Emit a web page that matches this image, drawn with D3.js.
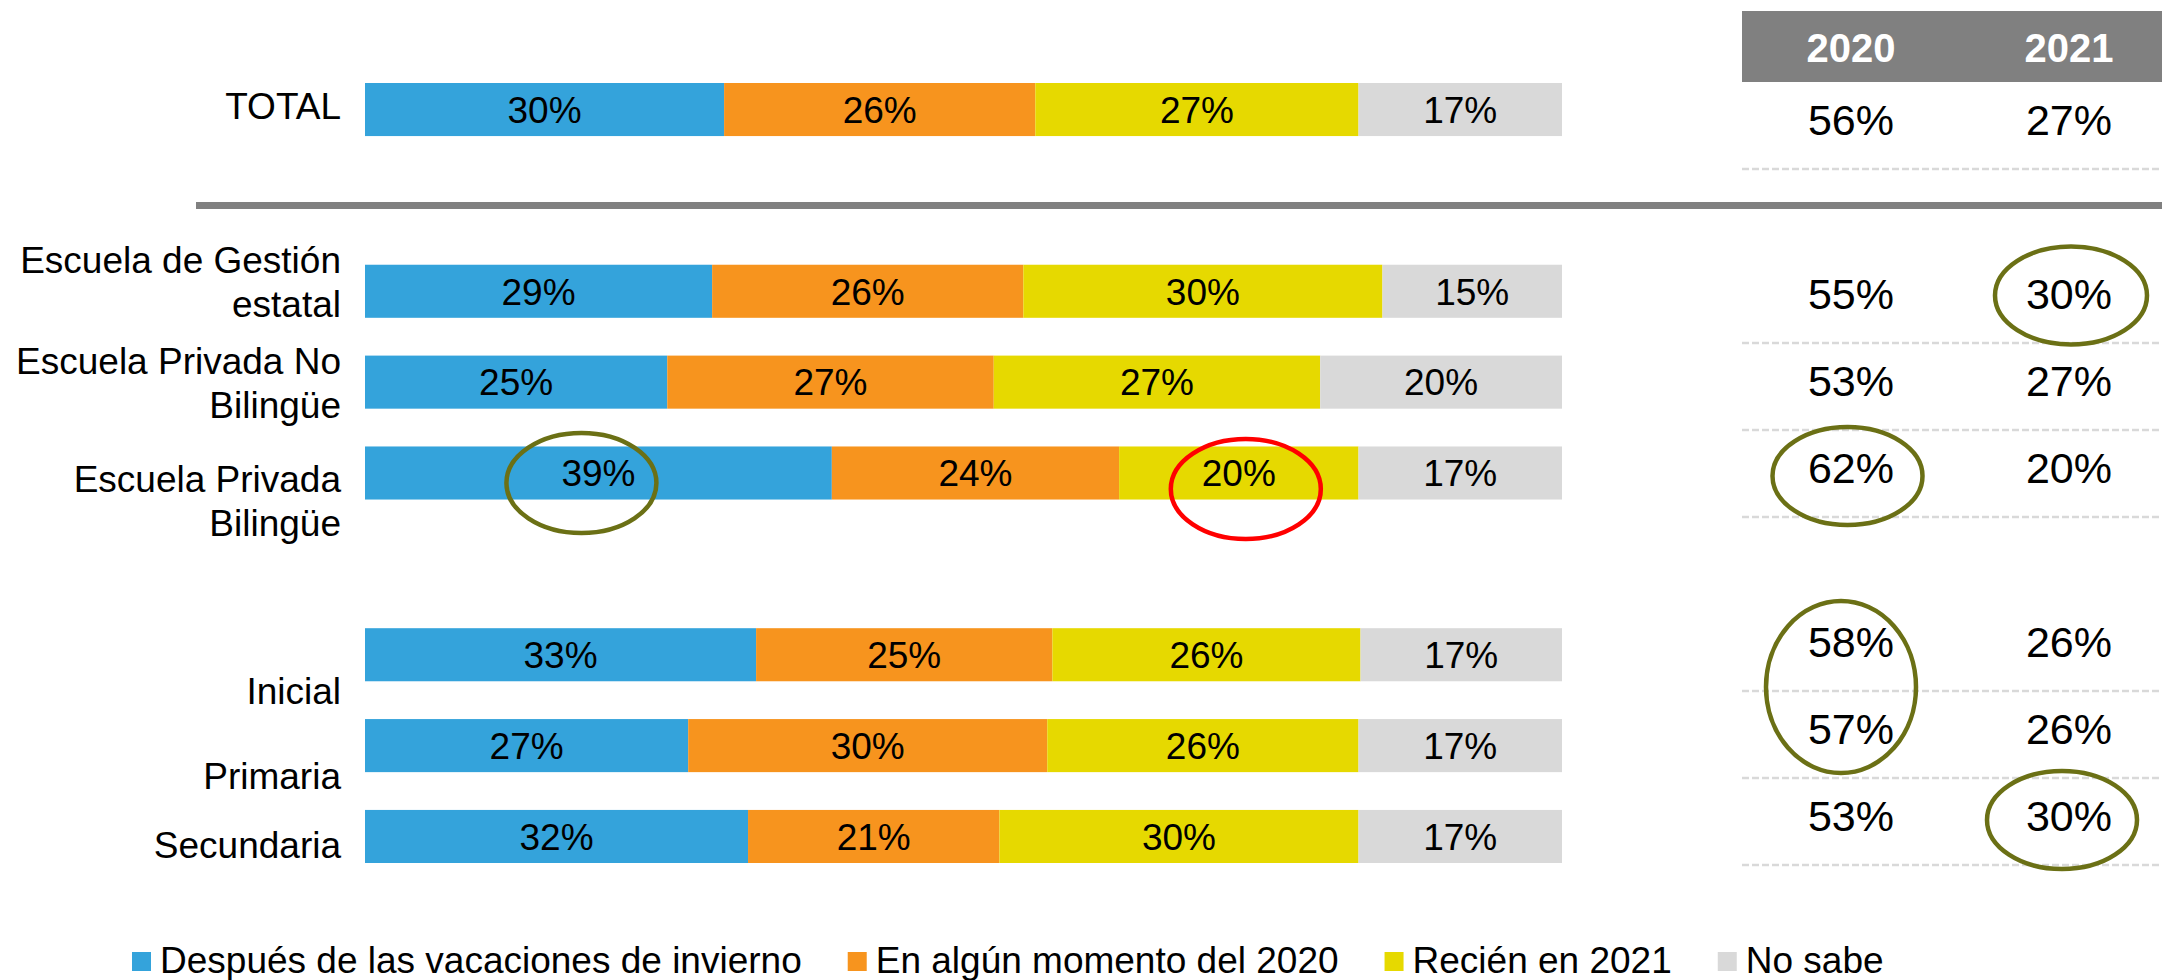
<!DOCTYPE html>
<html>
<head>
<meta charset="utf-8">
<script src="https://cdn.jsdelivr.net/npm/d3@7"></script>
<style>
  html, body { margin: 0; padding: 0; background: #fff; }
  svg { display: block; font-family: "Liberation Sans", Arial, Helvetica, sans-serif; }
</style>
</head>
<body>
<svg id="chart" width="2162" height="980"></svg>
<script>
// Row categories, grouped (a blank slot separates consecutive groups)
const groups = [
  ["TOTAL"],
  ["Escuela de Gestión estatal", "Escuela Privada No Bilingüe", "Escuela Privada Bilingüe"],
  ["Inicial", "Primaria", "Secundaria"]
];
const categories = groups.flat();

// Text lines of each row label
const labelLines = [
  ["TOTAL"],
  ["Escuela de Gestión", "estatal"],
  ["Escuela Privada No", "Bilingüe"],
  ["Escuela Privada", "Bilingüe"],
  ["Inicial"],
  ["Primaria"],
  ["Secundaria"]
];

// Stacked series (percent of respondents)
const seriesNames = ["Después de las vacaciones de invierno", "En algún momento del 2020", "Recién en 2021", "No sabe"];
const despuesVacaciones = [30, 29, 25, 39, 33, 27, 32];
const algunMomento2020  = [26, 26, 27, 24, 25, 30, 21];
const recien2021        = [27, 30, 27, 20, 26, 26, 30];
const noSabe            = [17, 15, 20, 17, 17, 17, 17];

// Summary table
const tableYears = ["2020", "2021"];
const total2020 = [56, 55, 53, 62, 58, 57, 53];
const total2021 = [27, 30, 27, 20, 26, 26, 30];

// ---- layout & style ----
const colors = ["#34A3DB", "#F7941E", "#E6D900", "#D9D9D9"];
const olive = "#6B7015";
const FONT_LABEL = 37, FONT_BAR = 37, FONT_TABLE = 43, FONT_HEAD = 40, FONT_LEGEND = 37;
// first-line baseline of each row label, measured from the bar top
const labelDy = [36, 8, 18, 46, 76, 70, 48];
const labelLineH = 44;

// slot index of each category (blank slot between groups)
const slots = [];
{ let s = 0; groups.forEach((g, gi) => { if (gi > 0) s++; g.forEach(() => slots.push(s++)); }); }
const nSlots = slots[slots.length - 1] + 1;

const rows = categories.map((c, i) => ({
  category: c, slot: slots[i],
  [seriesNames[0]]: despuesVacaciones[i],
  [seriesNames[1]]: algunMomento2020[i],
  [seriesNames[2]]: recien2021[i],
  [seriesNames[3]]: noSabe[i]
}));

const svg = d3.select("#chart");

const x = d3.scaleLinear().domain([0, 1]).range([365, 1562]);
const y = d3.scaleBand().domain(d3.range(nSlots)).range([83, 863]).paddingInner(0.416).paddingOuter(0);
const color = d3.scaleOrdinal().domain(seriesNames).range(colors);

const stack = d3.stack().keys(seriesNames).offset(d3.stackOffsetExpand);
const stacked = stack(rows);

// bars
const layer = svg.append("g").selectAll("g").data(stacked).join("g")
  .attr("fill", d => color(d.key));
layer.selectAll("rect").data(d => d).join("rect")
  .attr("x", d => x(d[0]))
  .attr("y", d => y(d.data.slot))
  .attr("width", d => x(d[1]) - x(d[0]))
  .attr("height", y.bandwidth());

// segment value labels
const segLabel = (d, key) => ({ cx: (x(d[0]) + x(d[1])) / 2, cy: y(d.data.slot) + y.bandwidth() / 2, v: d.data[key] });
svg.append("g").selectAll("g").data(stacked).join("g")
  .selectAll("text").data(s => s.map(d => segLabel(d, s.key))).join("text")
  .attr("x", d => d.cx)
  .attr("y", d => d.cy + FONT_BAR * 0.36)
  .attr("text-anchor", "middle")
  .attr("font-size", FONT_BAR)
  .attr("fill", "#000")
  .text(d => d.v + "%");

// row labels
const lab = svg.append("g");
rows.forEach((r, i) => {
  const t = lab.append("text")
    .attr("text-anchor", "end")
    .attr("font-size", FONT_LABEL)
    .attr("fill", "#000");
  labelLines[i].forEach((ln, k) => {
    t.append("tspan").attr("x", 341).attr("y", y(r.slot) + labelDy[i] + k * labelLineH).text(ln);
  });
});

// separator after TOTAL
const sepY = y(1) + y.bandwidth() / 2 + 5;
svg.append("line")
  .attr("x1", 196).attr("x2", 2162).attr("y1", sepY).attr("y2", sepY)
  .attr("stroke", "#808080").attr("stroke-width", 7);

// ---- summary table ----
const colX = d3.scalePoint().domain(tableYears).range([1851, 2069]);
const rowY = d3.scaleBand().domain(d3.range(nSlots)).range([82, 865]).paddingInner(0);

svg.append("rect").attr("x", 1742).attr("y", 11).attr("width", 2162 - 1742).attr("height", 71).attr("fill", "#808080");
svg.append("g").selectAll("text").data(tableYears).join("text")
  .attr("x", d => colX(d))
  .attr("y", 62)
  .attr("text-anchor", "middle")
  .attr("font-size", FONT_HEAD)
  .attr("font-weight", "bold")
  .attr("fill", "#fff")
  .text(d => d);

const rowBottom = slot => rowY(slot) + rowY.step();
const valBaseline = slot => rowBottom(slot) - 34.5;

const tableCells = [];
rows.forEach((r, i) => {
  tableCells.push({ year: "2020", slot: r.slot, v: total2020[i] });
  tableCells.push({ year: "2021", slot: r.slot, v: total2021[i] });
});
svg.append("g").selectAll("text").data(tableCells).join("text")
  .attr("x", d => colX(d.year))
  .attr("y", d => valBaseline(d.slot))
  .attr("text-anchor", "middle")
  .attr("font-size", FONT_TABLE)
  .attr("fill", "#000")
  .text(d => d.v + "%");

svg.append("g").selectAll("line").data(rows).join("line")
  .attr("x1", 1742).attr("x2", 2162)
  .attr("y1", d => rowBottom(d.slot)).attr("y2", d => rowBottom(d.slot))
  .attr("stroke", "#D9D9D9").attr("stroke-width", 2.5)
  .attr("stroke-dasharray", "7,3");

// ---- highlight ellipses ----
const rowIdx = c => categories.indexOf(c);
const barCenter = (c, k) => {
  const d = stacked[k][rowIdx(c)];
  return [(x(d[0]) + x(d[1])) / 2, y(d.data.slot) + y.bandwidth() / 2];
};
const cellCenter = (c, yr) => [colX(yr), valBaseline(slots[rowIdx(c)]) - 15];
const midOf = (a, b) => [(a[0] + b[0]) / 2, (a[1] + b[1]) / 2];

const marks = [
  { at: barCenter("Escuela Privada Bilingüe", 0), dx: -17, dy: 10, rx: 75, ry: 50, stroke: olive },
  { at: barCenter("Escuela Privada Bilingüe", 2), dx: 7, dy: 16, rx: 75, ry: 50, stroke: "#FF0000" },
  { at: cellCenter("Escuela de Gestión estatal", "2021"), dx: 2, dy: 2, rx: 76, ry: 49, stroke: olive },
  { at: cellCenter("Escuela Privada Bilingüe", "2020"), dx: -3.5, dy: 8.5, rx: 75, ry: 49, stroke: olive },
  { at: midOf(cellCenter("Inicial", "2020"), cellCenter("Primaria", "2020")), dx: -10, dy: 2, rx: 75, ry: 86, stroke: olive },
  { at: cellCenter("Secundaria", "2021"), dx: -7, dy: 4.5, rx: 75, ry: 49, stroke: olive }
];
svg.append("g").selectAll("ellipse").data(marks).join("ellipse")
  .attr("cx", d => d.at[0] + d.dx)
  .attr("cy", d => d.at[1] + d.dy)
  .attr("rx", d => d.rx).attr("ry", d => d.ry)
  .attr("fill", "none")
  .attr("stroke", d => d.stroke)
  .attr("stroke-width", 4.5);

// ---- legend ----
const legend = svg.append("g");
let lx = 132;
seriesNames.forEach(name => {
  legend.append("rect").attr("x", lx).attr("y", 952).attr("width", 19).attr("height", 19).attr("fill", color(name));
  const t = legend.append("text").attr("x", lx + 28).attr("y", 973)
    .attr("font-size", FONT_LEGEND).attr("fill", "#000").text(name);
  lx += 28 + t.node().getComputedTextLength() + 46;
});
</script>
</body>
</html>
